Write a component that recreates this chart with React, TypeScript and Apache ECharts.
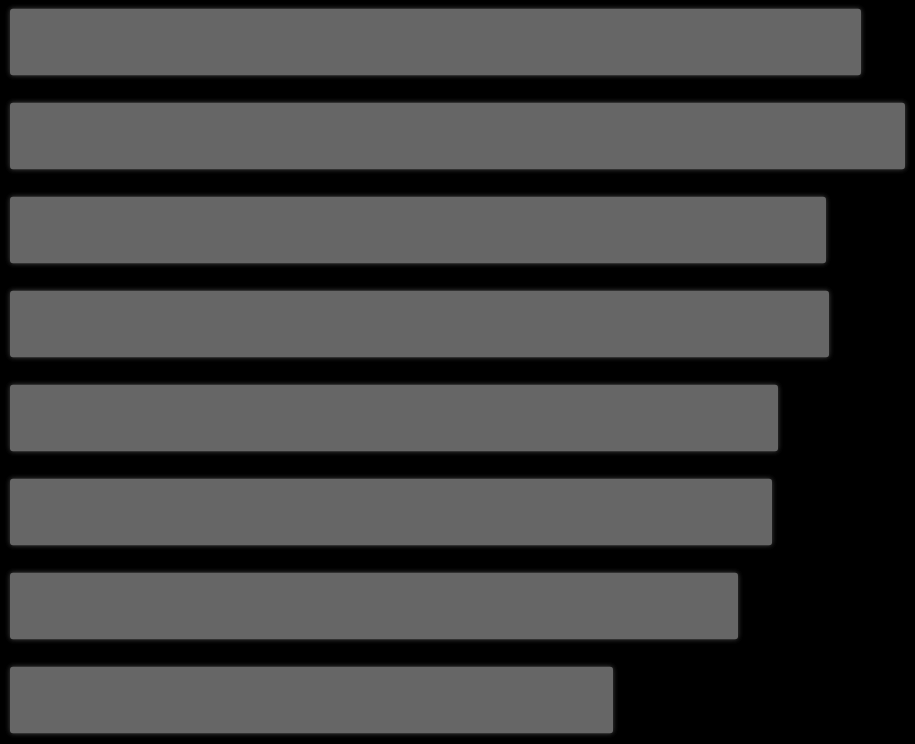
import { useEffect, useRef } from "react";
import * as echarts from "echarts";

const categories = ["A", "B", "C", "D", "E", "F", "G", "H"];
const values = [851, 895, 816, 819, 768, 762, 728, 603];

const App = () => {
  const chartRef = useRef<HTMLDivElement | null>(null);

  useEffect(() => {
    document.body.style.margin = "0";
    document.body.style.background = "#000";
    document.body.style.overflow = "hidden";
    if (!chartRef.current) return;
    const chart = echarts.init(chartRef.current, null, { renderer: "svg" });

    chart.setOption({
      animation: false,
      backgroundColor: "#000",
      grid: { left: 10, right: 10, top: 0, bottom: 0 },
      xAxis: {
        type: "value",
        min: 0,
        max: 895,
        show: false,
      },
      yAxis: {
        type: "category",
        data: categories,
        inverse: true,
        show: false,
      },
      series: [
        {
          type: "bar",
          data: values,
          barCategoryGap: "29.3%",
          itemStyle: {
            color: "#666666",
            borderRadius: 3,
            shadowBlur: 5,
            shadowColor: "rgba(102,102,102,0.7)",
          },
          silent: true,
        },
      ],
    });

    return () => chart.dispose();
  }, []);

  return (
    <div
      ref={chartRef}
      style={{ width: 915, height: 752, marginTop: -4.75 }}
    />
  );
};

export default App;
